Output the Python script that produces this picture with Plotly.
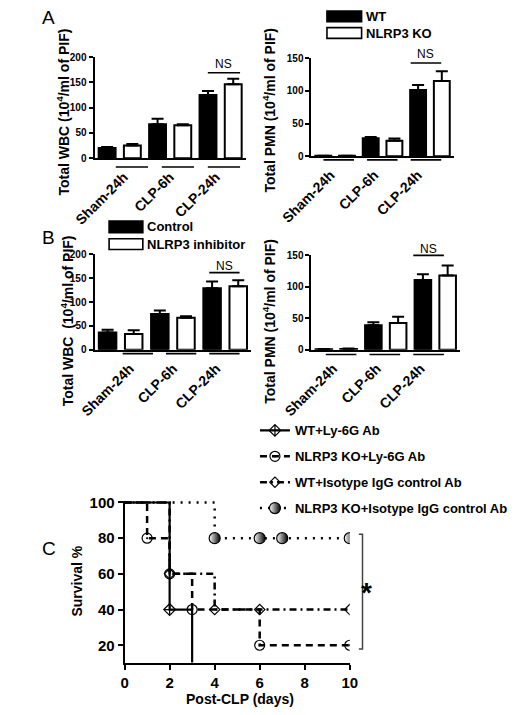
import plotly.graph_objects as go

W, H = 520, 715


def px(xp):
    return xp / W


def py(yp):
    return 1 - yp / H


FONT = "Liberation Sans, Arial, sans-serif"

# ---------------- data ----------------
groups = ["Sham-24h", "CLP-6h", "CLP-24h"]

# Panel A: WT vs NLRP3 KO
wbc_wt = [20, 67, 125]
wbc_wt_err = [2, 11, 8]
wbc_ko = [25, 65, 146]
wbc_ko_err = [3, 2, 11]
pmn_wt = [0.6, 27.5, 101]
pmn_wt_err = [0.3, 2, 8]
pmn_ko = [0.6, 23.5, 115]
pmn_ko_err = [0.3, 3.5, 15]

# Panel B: Control vs NLRP3 inhibitor
wbc_ctrl = [36, 75, 129]
wbc_ctrl_err = [6, 7, 14]
wbc_inh = [33, 67, 133]
wbc_inh_err = [8, 3, 13]
pmn_ctrl = [0.6, 39, 111]
pmn_ctrl_err = [0.3, 4.5, 9]
pmn_inh = [1.2, 42.5, 118]
pmn_inh_err = [0.5, 10, 16]

# Panel C: survival (Kaplan-Meier steps)
days_wt_ly6g = [0, 2, 3]
surv_wt_ly6g = [100, 40, 0]
days_ko_ly6g = [0, 1, 2, 3, 6, 10]
surv_ko_ly6g = [100, 80, 60, 40, 20, 20]
days_wt_iso = [0, 2, 4, 6, 10]
surv_wt_iso = [100, 60, 40, 40, 40]
days_ko_iso = [0, 4, 6, 7, 10]
surv_ko_iso = [100, 80, 80, 80, 80]

series_names = ["WT+Ly-6G Ab", "NLRP3 KO+Ly-6G Ab",
                "WT+Isotype IgG control Ab", "NLRP3 KO+Isotype IgG control Ab"]

fig = go.Figure()


def add_bars(xa, ya, v1, e1, v2, e2):
    for vals, errs, col in ((v1, e1, "black"), (v2, e2, "white")):
        fig.add_trace(go.Bar(
            x=groups, y=vals, xaxis=xa, yaxis=ya, showlegend=False,
            marker=dict(color=col, line=dict(color="black", width=2)),
            error_y=dict(type="data", symmetric=False, array=errs,
                         arrayminus=[0] * len(errs), color="black",
                         thickness=2, width=6),
        ))


add_bars("x", "y", wbc_wt, wbc_wt_err, wbc_ko, wbc_ko_err)
add_bars("x2", "y2", pmn_wt, pmn_wt_err, pmn_ko, pmn_ko_err)
add_bars("x3", "y3", wbc_ctrl, wbc_ctrl_err, wbc_inh, wbc_inh_err)
add_bars("x4", "y4", pmn_ctrl, pmn_ctrl_err, pmn_inh, pmn_inh_err)

# survival curves
styles = [
    dict(dash="solid", width=2.2, symbol="diamond-cross-open", size=9, grad=False),
    dict(dash="7px,5px", width=2.5, symbol="circle-open-dot", size=10, grad=False),
    dict(dash="7px,4px,2px,4px", width=2.5, symbol="diamond-open", size=8, grad=False),
    dict(dash="2px,6px", width=2.5, symbol="circle", size=11, grad=True),
]
curves = [(days_wt_ly6g, surv_wt_ly6g), (days_ko_ly6g, surv_ko_ly6g),
          (days_wt_iso, surv_wt_iso), (days_ko_iso, surv_ko_iso)]


def marker_of(st):
    if st["grad"]:
        return dict(symbol=st["symbol"], size=st["size"], color="white",
                    gradient=dict(type="horizontal", color="black"),
                    line=dict(color="black", width=1.2))
    return dict(symbol=st["symbol"], size=st["size"], color="black",
                line=dict(color="black", width=1.2))


for (dx, sy), st, name in zip(curves, styles, series_names):
    fig.add_trace(go.Scatter(
        x=dx, y=sy, xaxis="x5", yaxis="y5", mode="lines", line_shape="hv",
        line=dict(color="black", width=st["width"], dash=st["dash"]),
        showlegend=False, hoverinfo="skip"))
    fig.add_trace(go.Scatter(
        x=dx[1:], y=sy[1:], xaxis="x5", yaxis="y5", mode="markers",
        marker=marker_of(st), showlegend=False, cliponaxis=True))
    fig.add_trace(go.Scatter(
        x=[None], y=[None], xaxis="x5", yaxis="y5", mode="lines+markers",
        line=dict(color="black", width=st["width"], dash=st["dash"]),
        marker=marker_of(st), name=name, legendgroup=name))

# ---------------- axes ----------------
tickfont_small = dict(family=FONT, size=10, color="black", weight="bold")
label_font = dict(family=FONT, size=14, color="black", weight="bold")


def yax(dom, rng, anchor, dtick=50):
    return dict(domain=dom, range=rng, dtick=dtick, anchor=anchor, showline=True,
                linewidth=2, linecolor="black", ticks="outside", ticklen=4,
                tickwidth=2, tickcolor="black", showgrid=False, zeroline=False,
                tickfont=tickfont_small, fixedrange=True)


def xbar(dom, anchor):
    return dict(domain=dom, anchor=anchor, type="category", range=[-0.5, 2.5],
                showline=True, linewidth=2, linecolor="black", ticks="",
                showticklabels=False, showgrid=False, zeroline=False)


def xlab(dom, anchor):
    return dict(domain=dom, anchor=anchor, type="linear", range=[-0.5, 2.5],
                tickmode="array", tickvals=[0, 1, 2], ticktext=groups,
                tickangle=-45, showline=False, ticks="", showgrid=False,
                zeroline=False, tickfont=label_font, ticklabelstandoff=7,
                ticklabelshift=-8)


A_L_x = [px(62), px(228)]
A_R_x = [px(300), px(456)]
B_L_x = [px(62), px(234)]
B_R_x = [px(300), px(463)]

lab_AL = [px(77.75), px(229.25)]
lab_AR = [px(306), px(449.5)]
lab_BL = [px(85.75), px(228.25)]
lab_BR = [px(308.5), px(452.5)]

ctick = dict(family=FONT, size=15, color="black", weight="bold")

fig.update_layout(
    xaxis=xbar(A_L_x, "y"),
    yaxis=yax([py(154), py(51)], [0, 200], "x"),
    xaxis2=xbar(A_R_x, "y2"),
    yaxis2=yax([py(152), py(52)], [0, 150], "x2"),
    xaxis3=xbar(B_L_x, "y3"),
    yaxis3=yax([py(349), py(252)], [0, 200], "x3"),
    xaxis4=xbar(B_R_x, "y4"),
    yaxis4=yax([py(349), py(253)], [0, 150], "x4"),
    xaxis6=xlab(lab_AL, "y"),
    xaxis7=xlab(lab_AR, "y2"),
    xaxis8=xlab(lab_BL, "y3"),
    xaxis9=xlab(lab_BR, "y4"),
    xaxis5=dict(domain=[px(95), px(342)], anchor="y5", range=[0, 10], dtick=2,
                showline=True, linewidth=2, linecolor="black", ticks="outside",
                ticklen=5, tickwidth=2, tickcolor="black", showgrid=False,
                zeroline=False, tickfont=ctick),
    yaxis5=dict(domain=[py(667.7), py(503.2)], anchor="x5", range=[10.3, 100.8],
                tickmode="array", tickvals=[20, 40, 60, 80, 100],
                showline=True, linewidth=2, linecolor="black", ticks="outside",
                ticklen=5, tickwidth=2, tickcolor="black", showgrid=False,
                zeroline=False, tickfont=ctick),
    barmode="group", bargap=0.0, bargroupgap=0.33,
    width=W, height=H, margin=dict(l=0, r=0, t=0, b=0),
    paper_bgcolor="white", plot_bgcolor="rgba(0,0,0,0)",
    font=dict(family=FONT, color="black"),
    legend=dict(x=px(238), y=py(416), xanchor="left", yanchor="top",
                font=dict(family=FONT, size=13, color="black", weight="bold"),
                bgcolor="rgba(0,0,0,0)", tracegroupgap=6, itemwidth=30),
)

shapes = []
annotations = []

# underlines and NS bars on label axes
panel_info = [
    ("x6", 163, 67, 58),
    ("x7", 155.7, 57, 48),
    ("x8", 353, 270.5, 264),
    ("x9", 354, 253, 246),
]
for xr, uy, nsy, nsty in panel_info:
    for i in range(len(groups)):
        shapes.append(dict(type="line", xref=xr, yref="paper", x0=i - 0.35, x1=i + 0.35,
                           y0=py(uy), y1=py(uy), line=dict(color="black", width=1.6)))
    last = len(groups) - 1
    shapes.append(dict(type="line", xref=xr, yref="paper", x0=last - 0.35, x1=last + 0.35,
                       y0=py(nsy), y1=py(nsy), line=dict(color="black", width=1.6)))
    annotations.append(dict(text="NS", xref=xr, yref="paper", x=last, y=py(nsty),
                            yanchor="middle", showarrow=False,
                            font=dict(family=FONT, size=12, color="black")))


# bar legends
def legend_box(x0, x1, y0, y1, fill):
    shapes.append(dict(type="rect", xref="paper", yref="paper", x0=px(x0), x1=px(x1),
                       y0=py(y1), y1=py(y0), fillcolor=fill,
                       line=dict(color="black", width=1.6)))


legend_box(317, 355, 4, 15, "black")
legend_box(317, 355, 21, 32, "white")
legend_box(78, 115, 218, 230, "black")
legend_box(78, 115, 236, 247, "white")
for txt, x, y in (("WT", 358, 9.5), ("NLRP3 KO", 358, 26.5),
                  ("Control", 117, 224), ("NLRP3 inhibitor", 117, 242)):
    annotations.append(dict(text=txt, xref="paper", yref="paper", x=px(x), y=py(y),
                            xanchor="left", yanchor="middle", showarrow=False,
                            font=dict(family=FONT, size=13, color="black", weight="bold")))

# y axis titles
for txt, x, y in (("Total WBC (10<sup>4</sup>/ml of PIF)", 28, 107),
                  ("Total PMN (10<sup>4</sup>/ml of PIF)", 254, 105),
                  ("Total WBC \u00a0(10<sup>4</sup>/ml of PIF)", 32, 320),
                  ("Total PMN (10<sup>4</sup>/ml of PIF)", 254, 320)):
    annotations.append(dict(text=txt, xref="paper", yref="paper", x=px(x), y=py(y),
                            textangle=-90, showarrow=False, xanchor="center", yanchor="middle",
                            font=dict(family=FONT, size=14, color="black", weight="bold")))

# panel C titles
annotations.append(dict(text="Survival %", xref="paper", yref="paper", x=px(32), y=py(585),
                        textangle=-90, showarrow=False, yanchor="middle",
                        font=dict(family=FONT, size=14, color="black", weight="bold")))
annotations.append(dict(text="Post-CLP (days)", xref="paper", yref="paper", x=px(222), y=py(705),
                        showarrow=False, yanchor="middle",
                        font=dict(family=FONT, size=14, color="black", weight="bold")))

# panel letters
for txt, x, y in (("A", 2, 11), ("B", 2, 235), ("C", 2, 552)):
    annotations.append(dict(text=txt, xref="paper", yref="paper", x=px(x), y=py(y),
                            xanchor="left", yanchor="middle", showarrow=False,
                            font=dict(family=FONT, size=19, color="black")))

# significance bracket and star
shapes.append(dict(type="path", xref="paper", yref="paper",
                   path=f"M {px(352)},{py(537)} L {px(356)},{py(537)} L {px(356)},{py(654)} L {px(352)},{py(654)}",
                   line=dict(color="#444", width=1.5)))
annotations.append(dict(text="*", xref="paper", yref="paper", x=px(369), y=py(596),
                        yanchor="middle", showarrow=False,
                        font=dict(family=FONT, size=28, color="black", weight="bold")))

fig.update_layout(shapes=shapes, annotations=annotations)

fig.write_html("out.html", config={"displayModeBar": False},
               post_script="document.body.style.margin='0';document.body.style.padding='0';")
